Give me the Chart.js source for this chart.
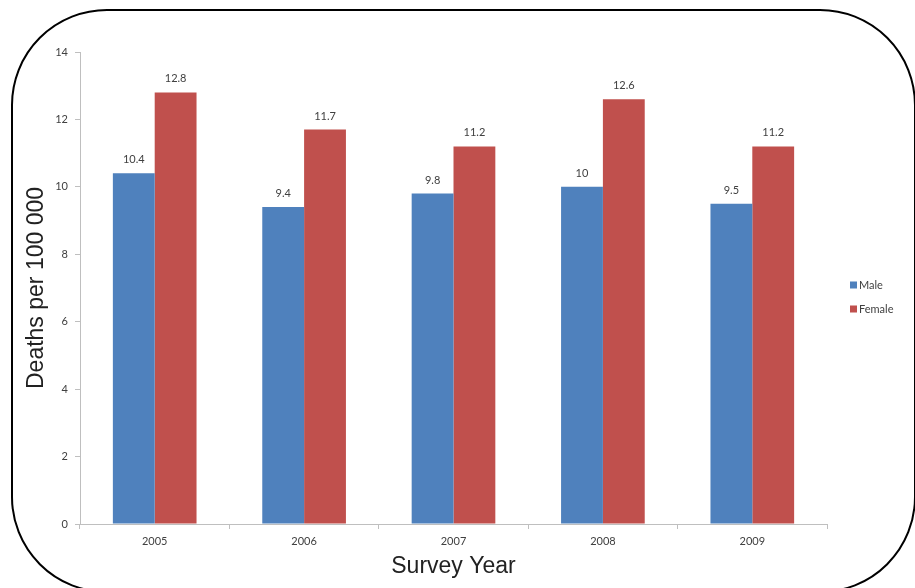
<!DOCTYPE html>
<html>
<head>
<meta charset="utf-8">
<title>Deaths per 100 000 by survey year</title>
<script src="https://cdn.jsdelivr.net/npm/chart.js@4"></script>
<style>
  html, body { margin: 0; padding: 0; background: #fff; overflow: hidden; }
  #frame {
    position: absolute; left: 11px; top: 9px;
    width: 905px; height: 584px;
    border: 2px solid #000; border-radius: 96px;
    box-sizing: border-box;
  }
  #chart { position: absolute; left: 0; top: 0; }
</style>
</head>
<body>
<div id="frame"></div>
<canvas id="chart" width="915" height="588"></canvas>
<script>
// Survey data
const years = ['2005', '2006', '2007', '2008', '2009'];
const maleRates = [10.4, 9.4, 9.8, 10, 9.5];
const femaleRates = [12.8, 11.7, 11.2, 12.6, 11.2];
const seriesNames = ['Male', 'Female'];

// y axis range
const yMin = 0;
const yMax = 14;
const yStep = 2;

const tickFont = { family: 'Lato', size: 11 };
const titleFont = { family: 'Liberation Sans', size: 23 };
const textColor = '#404040';
const axisColor = '#BFBFBF';

// write each value just above its bar
const barValues = {
  id: 'barValues',
  afterDatasetsDraw(chart) {
    const ctx = chart.ctx;
    ctx.save();
    ctx.font = '11px Lato';
    ctx.fillStyle = textColor;
    ctx.textAlign = 'center';
    ctx.textBaseline = 'alphabetic';
    chart.data.datasets.forEach((ds, i) => {
      chart.getDatasetMeta(i).data.forEach((bar, j) => {
        ctx.fillText(String(ds.data[j]), bar.x, bar.y - 10);
      });
    });
    ctx.restore();
  }
};

// small legend to the right of the plot
const sideLegend = {
  id: 'sideLegend',
  afterDraw(chart) {
    const ctx = chart.ctx;
    const area = chart.chartArea;
    const x = area.right + 23;
    const y0 = (area.top + area.bottom) / 2 - 3;
    ctx.save();
    ctx.font = '11px Lato';
    ctx.textBaseline = 'middle';
    chart.data.datasets.forEach((ds, i) => {
      const y = y0 + i * 24;
      ctx.fillStyle = ds.backgroundColor;
      ctx.fillRect(x, y - 3.5, 7, 7);
      ctx.fillStyle = textColor;
      ctx.fillText(ds.label, x + 9, y);
    });
    ctx.restore();
  }
};

const chart = new Chart(document.getElementById('chart'), {
  type: 'bar',
  data: {
    labels: years,
    datasets: [{
      label: seriesNames[0],
      data: maleRates,
      backgroundColor: '#4F81BD',
      borderWidth: 0
    }, {
      label: seriesNames[1],
      data: femaleRates,
      backgroundColor: '#C0504D',
      borderWidth: 0
    }]
  },
  options: {
    responsive: false,
    animation: false,
    devicePixelRatio: 1,
    categoryPercentage: 0.56,
    barPercentage: 1.0,
    layout: { padding: { top: 52, right: 88, bottom: 0, left: 0 } },
    plugins: {
      legend: { display: false },
      tooltip: { enabled: false }
    },
    scales: {
      x: {
        grid: { drawOnChartArea: false, tickLength: 5, color: axisColor, offset: true },
        border: { color: axisColor },
        ticks: { font: tickFont, color: textColor, padding: 6 },
        title: {
          display: true, text: 'Survey Year', font: titleFont, color: '#222',
          padding: { top: 0, bottom: 8 }
        },
        afterFit(scale) { scale.height = 64; }
      },
      y: {
        min: yMin,
        max: yMax,
        grid: { drawOnChartArea: false, tickLength: 5, color: axisColor },
        border: { color: axisColor },
        ticks: { stepSize: yStep, font: tickFont, color: textColor, padding: 7 },
        title: {
          display: true, text: 'Deaths per 100 000', font: titleFont, color: '#222',
          padding: { top: 23, bottom: 0 }
        },
        afterFit(scale) { scale.width = 80; }
      }
    }
  },
  plugins: [barValues, sideLegend]
});
</script>
</body>
</html>
